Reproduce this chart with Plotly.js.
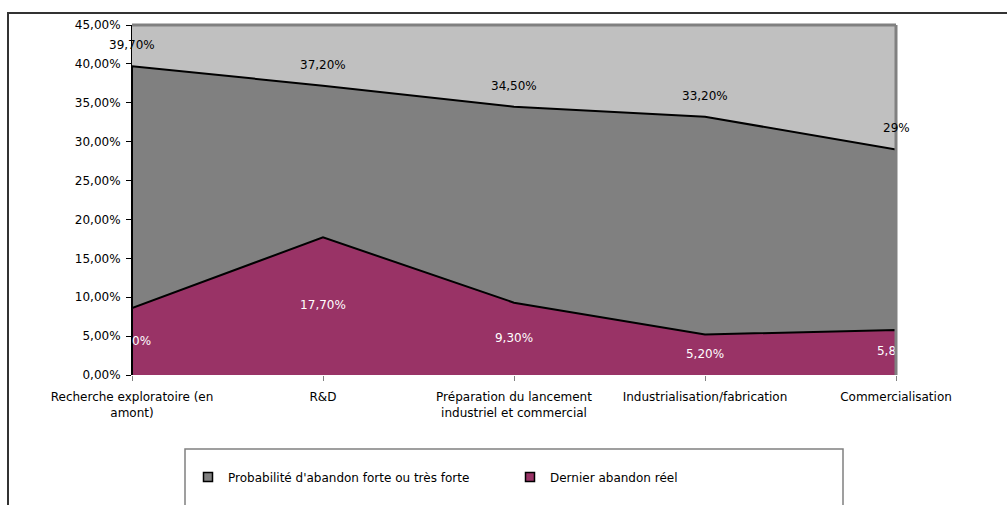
<!DOCTYPE html>
<html>
<head>
<meta charset="utf-8">
<script src="https://cdn.plot.ly/plotly-3.0.1.min.js"></script>
<style>html,body{margin:0;padding:0;background:#fff;}#chart{width:1007px;height:505px;}</style>
</head>
<body>
<div id="chart"></div>
<script>
const categories = [
  "Recherche exploratoire (en<br>amont)",
  "R&D",
  "Préparation du lancement<br>industriel et commercial",
  "Industrialisation/fabrication",
  "Commercialisation"
];
const probaForte = [0.397, 0.372, 0.345, 0.332, 0.29];
const dernierAbandon = [0.086, 0.177, 0.093, 0.052, 0.058];
const probaLabels = ["39,70%", "37,20%", "34,50%", "33,20%", "29%"];
const abandonLabels = ["8,60%", "17,70%", "9,30%", "5,20%", "5,80%"];
const seriesNames = ["Probabilité d'abandon forte ou très forte", "Dernier abandon réel"];

const idx = categories.map((c, i) => i);
function closed(vals) {
  return {
    x: [idx[0]].concat(idx, [idx[idx.length - 1]]),
    y: [0].concat(vals, [0])
  };
}
const g = closed(probaForte);
const p = closed(dernierAbandon);

const FONT = "DejaVu Sans, Liberation Sans, Arial, sans-serif";
const FS = 12;

const traces = [
  {x: g.x, y: g.y, mode: 'lines', fill: 'toself', fillcolor: '#808080',
   line: {color: '#000', width: 2}, showlegend: false, hoverinfo: 'skip'},
  {x: p.x, y: p.y, mode: 'lines', fill: 'toself', fillcolor: '#993366',
   line: {color: '#000', width: 2}, showlegend: false, hoverinfo: 'skip'},
  {x: idx, y: dernierAbandon.map(v => v / 2), mode: 'text', text: abandonLabels,
   textfont: {color: '#fff', size: FS, family: FONT}, cliponaxis: true,
   showlegend: false, hoverinfo: 'skip'},
  {x: [null], y: [null], mode: 'markers', name: seriesNames[0],
   marker: {symbol: 'square', size: 9, color: '#808080', line: {color: '#000', width: 1.5}}},
  {x: [null], y: [null], mode: 'markers', name: seriesNames[1],
   marker: {symbol: 'square', size: 9, color: '#993366', line: {color: '#000', width: 1.5}}}
];

const annotations = idx.map((i) => ({
  x: i, y: probaForte[i], xref: 'x', yref: 'y', text: probaLabels[i],
  showarrow: false, yshift: 21, font: {size: FS, color: '#000', family: FONT}
}));

const px = v => (v - 132) / 764;
const py = v => (375 - v) / 350;

const layout = {
  width: 1007, height: 505,
  margin: {l: 132, r: 111, t: 25, b: 130},
  paper_bgcolor: '#fff', plot_bgcolor: '#C0C0C0',
  separators: ', ',
  font: {family: FONT, size: FS, color: '#000'},
  showlegend: true,
  xaxis: {
    type: 'linear', range: [0, 4], tickvals: idx, ticktext: categories,
    showgrid: false, zeroline: false, showline: false,
    ticks: 'outside', ticklen: 5, tickcolor: '#808080', ticklabelstandoff: 6,
    tickfont: {size: FS, family: FONT}, fixedrange: true
  },
  yaxis: {
    range: [0, 0.45], dtick: 0.05, tickformat: '.2%',
    showgrid: false, zeroline: false, showline: true, linecolor: '#000', linewidth: 1,
    ticks: 'outside', ticklen: 5, tickcolor: '#000', ticklabelstandoff: 3,
    tickfont: {size: FS, family: FONT}, fixedrange: true
  },
  legend: {
    orientation: 'h', x: px(188), xanchor: 'left', y: py(477), yanchor: 'middle',
    entrywidth: 277, entrywidthmode: 'pixels',
    font: {size: FS, family: FONT, color: '#000'}, bgcolor: 'rgba(0,0,0,0)', borderwidth: 0
  },
  annotations: annotations,
  shapes: [
    {type: 'line', xref: 'paper', yref: 'paper', x0: 0, x1: 1, y0: 1, y1: 1, line: {color: '#808080', width: 3}},
    {type: 'line', xref: 'paper', yref: 'paper', x0: 1, x1: 1, y0: 0, y1: 1, line: {color: '#808080', width: 3}},
    {type: 'rect', xref: 'paper', yref: 'paper', x0: px(8), x1: px(1020), y0: py(13), y1: py(520),
     line: {color: '#333', width: 2}, fillcolor: 'rgba(0,0,0,0)', layer: 'below'},
    {type: 'rect', xref: 'paper', yref: 'paper', x0: px(185), x1: px(843), y0: py(449), y1: py(520),
     line: {color: '#808080', width: 1.5}, fillcolor: 'rgba(0,0,0,0)', layer: 'below'}
  ]
};

Plotly.newPlot('chart', traces, layout, {displayModeBar: false, staticPlot: true});
</script>
</body>
</html>
